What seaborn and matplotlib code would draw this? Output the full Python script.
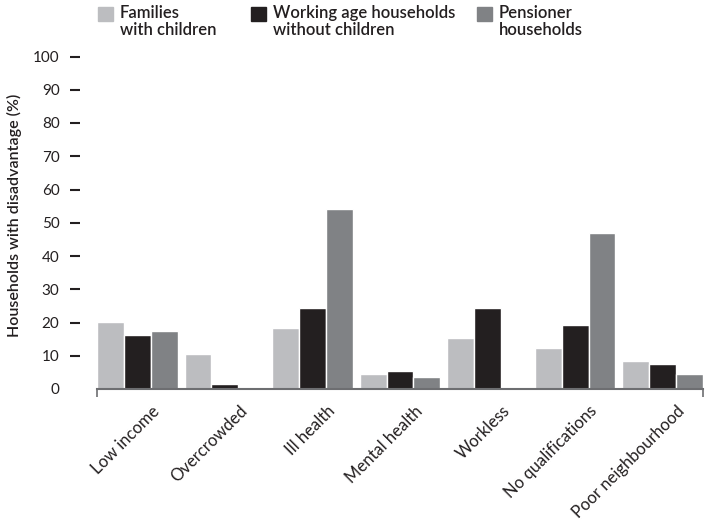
import matplotlib
matplotlib.use("Agg")
import matplotlib.pyplot as plt
import matplotlib.transforms as mtransforms
from matplotlib.patches import Rectangle
import seaborn as sns
import pandas as pd

# data
categories = ['Low income', 'Overcrowded', 'Ill health', 'Mental health',
              'Workless', 'No qualifications', 'Poor neighbourhood']
families = [20.2, 10.5, 18.3, 4.5, 15.3, 12.3, 8.4]
working_age = [16.2, 1.5, 24.3, 5.4, 24.3, 19.2, 7.5]
pensioners = [17.4, 0, 54.0, 3.6, 0, 47.0, 4.5]
series_names = ['Families\nwith children', 'Working age households\nwithout children',
                'Pensioner\nhouseholds']
colors = ['#BCBDC0', '#231F20', '#808285']
text_color = '#231F20'

rows = []
for name, vals in zip(series_names, [families, working_age, pensioners]):
    for cat, v in zip(categories, vals):
        rows.append({'category': cat, 'group': name, 'value': v})
df = pd.DataFrame(rows)

sns.set_style("white")
plt.rcParams['font.family'] = ['Lato', 'DejaVu Sans']

W, H = 707, 522
fig = plt.figure(figsize=(W / 100, H / 100), dpi=100)
ax = fig.add_axes([97 / W, 1 - 389 / H, 606 / W, 332.5 / H])

sns.barplot(data=df, x='category', y='value', hue='group', palette=colors,
            width=0.92, saturation=1, ax=ax, legend=False)

ax.set_ylim(0, 100)
ax.set_xlim(-0.46, 6.46)
ax.set_yticks(range(0, 101, 10))
ax.tick_params(axis='y', labelsize=11, labelcolor=text_color, length=7, width=1.5,
               color=text_color, pad=8, left=True)
ax.spines['left'].set_position(('outward', 12))
ax.spines['left'].set_visible(False)
ax.yaxis.get_major_ticks()[0].tick1line.set_visible(False)
for s in ['top', 'right']:
    ax.spines[s].set_visible(False)
ax.spines['bottom'].set_color('#6D6E71')
ax.spines['bottom'].set_linewidth(1.5)

ax.set_xlabel('')
ax.set_ylabel('Households with disadvantage (%)', fontsize=11.5, fontweight='semibold',
              color=text_color)
ax.yaxis.set_label_coords(-0.124, 0.523)
ax.tick_params(axis='x', which='major', length=0, labelsize=12, labelcolor=text_color, pad=10)
shift = mtransforms.ScaledTranslation(0.14, 0, fig.dpi_scale_trans)
for lbl in ax.get_xticklabels():
    lbl.set_rotation(45)
    lbl.set_ha('right')
    lbl.set_va('top')
    lbl.set_rotation_mode('anchor')
    lbl.set_transform(lbl.get_transform() + shift)
ax.set_xticks([-0.46, 6.46], minor=True)
ax.tick_params(axis='x', which='minor', length=6, width=1.2, color='#6D6E71', bottom=True)

# legend: square to the left of a two-line label, aligned with the first line
legend_x = [98, 251, 477]
for x, name, c in zip(legend_x, series_names, colors):
    fig.patches.append(Rectangle((x / W, 1 - 21 / H), 15 / W, 14 / H, color=c,
                                 transform=fig.transFigure, figure=fig))
    fig.text((x + 22) / W, 1 - 5 / H, name, fontsize=12, fontweight='semibold',
             color=text_color, va='top', ha='left', linespacing=1.1)

fig.savefig('out.png', dpi=100)
